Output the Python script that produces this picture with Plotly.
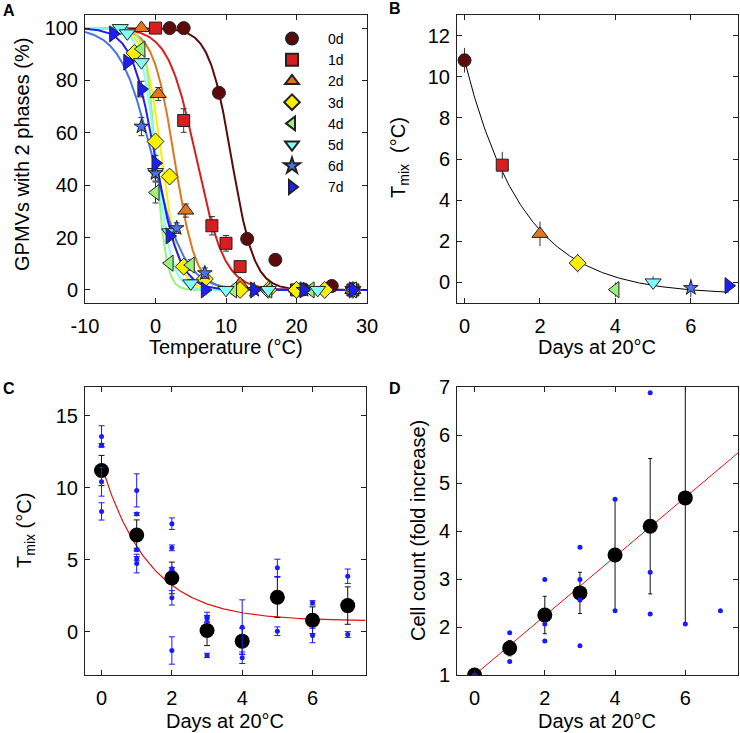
import numpy as np
import plotly.graph_objects as go

W, H = 740, 733

# ---- panel A: melting curves for each day ----
day_names = ["0d", "1d", "2d", "3d", "4d", "5d", "6d", "7d"]
day_colors = ["#5c0a0a", "#d81e1e", "#e2761c", "#f8f000", "#9cf07c", "#80ffff", "#4a72f0", "#1e1ef5"]
day_symbols = ["circle", "square", "triangle-up", "diamond", "triangle-left",
               "triangle-down", "star", "triangle-right"]
marker_sizes = [13, 12, 14, 13, 14, 14, 11, 14]

temp_a = [
    [2, 4, 9, 13, 17, 21, 25, 28],
    [0, 4, 8, 10, 12, 20, 28],
    [-2, 0.4, 4.3, 12, 20, 28],
    [-3, 0, 2, 4, 7, 12, 16, 20, 24, 28],
    [-2, 0, 2, 5, 11, 16, 22, 28],
    [-5, -4, -2, 0, 2, 5, 10, 16, 23, 28],
    [-2, 0, 3, 7, 14, 21, 28],
    [-6, -4, -2, 0, 2, 7, 14, 21, 28],
]
frac_a = [
    [100, 100, 75.3, 19.5, 11.5, 0.2, 1.5, 0.3],
    [100, 64.7, 24.5, 17.8, 8.9, 0, 0],
    [100, 74.8, 30.3, 2.3, 0.5, 0],
    [90.5, 56.7, 43.3, 8.9, 4.2, 0, 0, 0, 0, 0],
    [92, 37.2, 10.2, 9.5, 0, 0, 0, 0],
    [100, 98, 87, 45, 22, 2.5, 0, 0, 0, 0],
    [62.4, 44.6, 23.6, 6.4, 0, 0, 0],
    [97.8, 87, 76.7, 48.4, 20.6, 0, 0, 0, 0],
]
err_a = [
    [0, 0, 0, 1.5, 0, 0, 0, 0],
    [0, 4.5, 3.5, 3, 2, 0, 0],
    [0, 2.5, 2.5, 1.5, 0, 0],
    [0, 2, 0, 2, 1.5, 0, 0, 0, 0, 0],
    [0, 4, 0, 2, 0, 0, 0, 0],
    [0, 0, 0, 0, 0, 1.5, 0, 0, 0, 0],
    [3.5, 3, 2, 2, 0, 0, 0],
    [0, 0, 3, 3, 0, 0, 0, 0, 0],
]
# sigmoid fit parameters (midpoint, width)
fit_mid = [10.8, 5.8, 2.7, 0.9, 0.05, 0.1, -0.4, 0.0]
fit_width = [1.6, 2.0, 1.5, 1.2, 0.75, 1.1, 2.3, 1.7]
temp_ticks = [-10, 0, 10, 20, 30]

# ---- panel B: Tmix per day ----
days = [0, 1, 2, 3, 4, 5, 6, 7]
tmix_b = [10.8, 5.7, 2.36, 0.94, -0.35, 0.0, -0.27, -0.16]
tmix_b_err = [0.6, 0.65, 0.6, 0.45, 0.35, 0.3, 0.45, 0]
fit_b = dict(amp=11.4, tau=1.55, offset=-0.6)

# ---- panel C: Tmix replicates ----
tmix_c = [11.2, 6.72, 3.74, 0.09, -0.65, 2.4, 0.8, 1.82]
tmix_c_err = [1.05, 1.05, 1.1, 1.05, 0.9, 1.4, 0.93, 1.3]
rep_c_day = [0, 0, 0, 0, 1, 1, 1, 1, 1, 2, 2, 2, 2, 2, 3, 3, 3, 4, 4, 5, 5, 6, 6, 7, 7]
rep_c_val = [13.56, 12.97, 10.42, 8.36, 9.82, 8.18, 5.7, 5.08, 4.74,
             7.51, 5.83, 4.37, 2.36, -1.3, 1.01, 0.9, -1.64, 0.32, -1.8,
             4.44, 0.04, 2.01, -0.26, 3.86, -0.19]
rep_c_err = [0.75, 0.1, 1.0, 0.6, 1.15, 0.1, 0.1, 0.15, 0.65,
             0.4, 0.2, 0.1, 0.5, 0.95, 0.35, 0.2, 0.15, 1.9, 0.4,
             0.6, 0.3, 0.15, 0.5, 0.5, 0.2]
fit_c = dict(amp=10.8, tau=1.36, offset=0.75)

# ---- panel D: cell count ----
days_d = [0, 1, 2, 3, 4, 5, 6]
count_d = [1.0, 1.56, 2.25, 2.71, 3.5, 4.1, 4.69]
count_d_err = [0, 0.16, 0.39, 0.43, 1.16, 1.41, 2.63]
rep_d_day = [0, 1, 1, 2, 2, 2, 3, 3, 3, 3, 4, 4, 5, 5, 5, 6, 7]
rep_d_val = [1.0, 1.88, 1.28, 2.99, 2.06, 1.71, 3.66, 2.99, 2.56, 1.61,
             4.66, 2.34, 6.88, 3.14, 2.27, 2.06, 2.34]
slope_d = 0.617

FONT = "Liberation Sans, Arial, sans-serif"
BLUE = "#1a1aff"

fig = go.Figure()

# A: fitted curves under the points
t_curve = np.linspace(-10, 30, 400)
for i in range(8):
    y = 100 / (1 + np.exp((t_curve - fit_mid[i]) / fit_width[i]))
    fig.add_trace(go.Scatter(x=t_curve, y=y, mode="lines", xaxis="x", yaxis="y",
                             line=dict(color=day_colors[i], width=2), showlegend=False,
                             hoverinfo="skip"))
for i in range(8):
    fig.add_trace(go.Scatter(
        x=temp_a[i], y=frac_a[i], mode="markers", name=day_names[i], xaxis="x", yaxis="y",
        marker=dict(symbol=day_symbols[i], size=marker_sizes[i], color=day_colors[i],
                    line=dict(color="#222", width=1)),
        error_y=dict(type="data", array=err_a[i], color="#333", thickness=1, width=3),
    ))

# B
d_curve = np.linspace(0, 7, 200)
fig.add_trace(go.Scatter(x=d_curve, y=fit_b["amp"] * np.exp(-d_curve / fit_b["tau"]) + fit_b["offset"],
                         mode="lines", xaxis="x2", yaxis="y2", line=dict(color="black", width=1),
                         showlegend=False))
for i in range(8):
    fig.add_trace(go.Scatter(
        x=[days[i]], y=[tmix_b[i]], mode="markers", xaxis="x2", yaxis="y2", showlegend=False,
        marker=dict(symbol=day_symbols[i], size=marker_sizes[i], color=day_colors[i],
                    line=dict(color="#222", width=1)),
        error_y=dict(type="data", array=[tmix_b_err[i]], color="#333", thickness=1, width=0),
    ))

# C
c_curve = np.linspace(0, 7.5, 200)
fig.add_trace(go.Scatter(x=c_curve, y=fit_c["amp"] * np.exp(-c_curve / fit_c["tau"]) + fit_c["offset"],
                         mode="lines", xaxis="x3", yaxis="y3", line=dict(color="#e01010", width=1.2),
                         showlegend=False))
fig.add_trace(go.Scatter(x=days, y=tmix_c, mode="markers", xaxis="x3", yaxis="y3", showlegend=False,
                         marker=dict(size=15, color="black"),
                         error_y=dict(type="data", array=tmix_c_err, color="#111", thickness=1, width=3)))
fig.add_trace(go.Scatter(x=rep_c_day, y=rep_c_val, mode="markers", xaxis="x3", yaxis="y3",
                         showlegend=False, marker=dict(size=5, color=BLUE),
                         error_y=dict(type="data", array=rep_c_err, color=BLUE, thickness=1, width=3)))

# D
line_x = [0, 7.5]
fig.add_trace(go.Scatter(x=line_x, y=[1 + slope_d * v for v in line_x], mode="lines",
                         xaxis="x4", yaxis="y4", line=dict(color="#e01010", width=1),
                         showlegend=False))
fig.add_trace(go.Scatter(x=days_d, y=count_d, mode="markers", xaxis="x4", yaxis="y4", showlegend=False,
                         marker=dict(size=15, color="black"),
                         error_y=dict(type="data", array=count_d_err, color="#111", thickness=1, width=2)))
fig.add_trace(go.Scatter(x=rep_d_day, y=rep_d_val, mode="markers", xaxis="x4", yaxis="y4",
                         showlegend=False, marker=dict(size=5, color=BLUE)))


def px_x(v):
    return v / W


def px_y(v):
    return 1 - v / H


axis_style = dict(showline=True, linecolor="#222", linewidth=1, mirror="ticks", ticks="inside",
                  ticklen=5, tickwidth=1, tickcolor="#222", showgrid=False, zeroline=False,
                  automargin=False, tickfont=dict(family=FONT, size=20, color="black"))
xstyle = dict(axis_style, ticklabelstandoff=5)
ystyle = dict(axis_style, ticklabelstandoff=2)

fig.update_layout(
    width=W, height=H, margin=dict(l=0, r=0, t=0, b=0, autoexpand=False),
    paper_bgcolor="white", plot_bgcolor="white",
    font=dict(family=FONT, size=20, color="black"),
    xaxis=dict(xstyle, domain=[px_x(85), px_x(367)], range=[-10, 30], tickvals=temp_ticks,
               ticktext=[str(t) for t in temp_ticks], anchor="y"),
    yaxis=dict(ystyle, domain=[px_y(303), px_y(15)], range=[-5, 105], tickvals=[0, 20, 40, 60, 80, 100],
               anchor="x"),
    xaxis2=dict(xstyle, domain=[px_x(457), px_x(738)], range=[-0.2, 7.25], tickvals=[0, 2, 4, 6],
                anchor="y2"),
    yaxis2=dict(ystyle, domain=[px_y(303), px_y(15)], range=[-1, 13], tickvals=[0, 2, 4, 6, 8, 10, 12],
                anchor="x2"),
    xaxis3=dict(xstyle, domain=[px_x(85), px_x(366)], range=[-0.47, 7.52], tickvals=[0, 2, 4, 6],
                anchor="y3"),
    yaxis3=dict(ystyle, domain=[px_y(675), px_y(387)], range=[-3, 17], tickvals=[0, 5, 10, 15],
                anchor="x3"),
    xaxis4=dict(xstyle, domain=[px_x(457), px_x(738)], range=[-0.5, 7.5], tickvals=[0, 2, 4, 6],
                anchor="y4"),
    yaxis4=dict(ystyle, domain=[px_y(675), px_y(387)], range=[1, 7], tickvals=[1, 2, 3, 4, 5, 6, 7],
                anchor="x4"),
    legend=dict(x=px_x(256), y=px_y(23), xanchor="left", yanchor="top", bgcolor="rgba(0,0,0,0)",
                font=dict(family=FONT, size=14, color="black"), itemwidth=62, tracegroupgap=0,
                itemsizing="constant"),
    showlegend=True,
)

annotations = [
    ("A", 9, 11, 0, True), ("B", 395, 9, 0, True), ("C", 9, 388, 0, True), ("D", 395, 388, 0, True),
    ("Temperature (°C)", 226, 347, 0, False),
    ("GPMVs with 2 phases (%)", 22, 155, -90, False),
    ("Days at 20°C", 597, 347, 0, False),
    ("T<sub>mix</sub>  (°C)", 399, 158, -90, False),
    ("Days at 20°C", 225, 721, 0, False),
    ("T<sub>mix</sub> (°C)", 25, 531, -90, False),
    ("Days at 20°C", 597, 721, 0, False),
    ("Cell count (fold increase)", 418, 531, -90, False),
]
for text, x, y, ang, bold in annotations:
    fig.add_annotation(
        text=f"<b>{text}</b>" if bold else text, x=px_x(x), y=px_y(y), xref="paper", yref="paper",
        showarrow=False, textangle=ang, xanchor="center", yanchor="middle",
        font=dict(family=FONT, size=16 if bold else 20, color="black"),
    )

# the page body has a default 8px margin; remove it so the figure sits at the corner
fig.write_html("out.html", config={"displayModeBar": False},
               post_script="document.body.style.margin='0px';")
